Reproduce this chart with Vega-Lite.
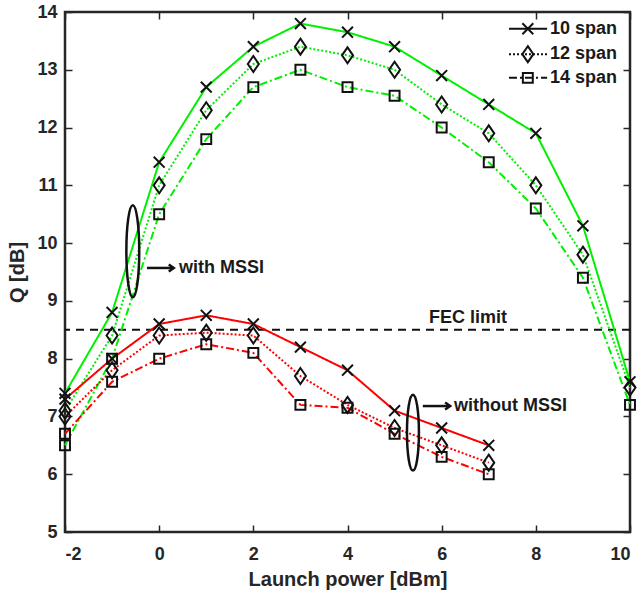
{
  "$schema": "https://vega.github.io/schema/vega-lite/v6.json",
  "width": 565,
  "height": 520,
  "autosize": "none",
  "padding": {"left": 65, "top": 12, "right": 11, "bottom": 69},
  "background": "white",
  "datasets": {
    "series": [
      {"power": -2, "q": 7.4, "span": "10 span", "mssi": "with"},
      {"power": -1, "q": 8.8, "span": "10 span", "mssi": "with"},
      {"power": 0, "q": 11.4, "span": "10 span", "mssi": "with"},
      {"power": 1, "q": 12.7, "span": "10 span", "mssi": "with"},
      {"power": 2, "q": 13.4, "span": "10 span", "mssi": "with"},
      {"power": 3, "q": 13.8, "span": "10 span", "mssi": "with"},
      {"power": 4, "q": 13.65, "span": "10 span", "mssi": "with"},
      {"power": 5, "q": 13.4, "span": "10 span", "mssi": "with"},
      {"power": 6, "q": 12.9, "span": "10 span", "mssi": "with"},
      {"power": 7, "q": 12.4, "span": "10 span", "mssi": "with"},
      {"power": 8, "q": 11.9, "span": "10 span", "mssi": "with"},
      {"power": 9, "q": 10.3, "span": "10 span", "mssi": "with"},
      {"power": 10, "q": 7.6, "span": "10 span", "mssi": "with"},
      {"power": -2, "q": 7.1, "span": "12 span", "mssi": "with"},
      {"power": -1, "q": 8.4, "span": "12 span", "mssi": "with"},
      {"power": 0, "q": 11.0, "span": "12 span", "mssi": "with"},
      {"power": 1, "q": 12.3, "span": "12 span", "mssi": "with"},
      {"power": 2, "q": 13.1, "span": "12 span", "mssi": "with"},
      {"power": 3, "q": 13.4, "span": "12 span", "mssi": "with"},
      {"power": 4, "q": 13.25, "span": "12 span", "mssi": "with"},
      {"power": 5, "q": 13.0, "span": "12 span", "mssi": "with"},
      {"power": 6, "q": 12.4, "span": "12 span", "mssi": "with"},
      {"power": 7, "q": 11.9, "span": "12 span", "mssi": "with"},
      {"power": 8, "q": 11.0, "span": "12 span", "mssi": "with"},
      {"power": 9, "q": 9.8, "span": "12 span", "mssi": "with"},
      {"power": 10, "q": 7.5, "span": "12 span", "mssi": "with"},
      {"power": -2, "q": 6.5, "span": "14 span", "mssi": "with"},
      {"power": -1, "q": 8.0, "span": "14 span", "mssi": "with"},
      {"power": 0, "q": 10.5, "span": "14 span", "mssi": "with"},
      {"power": 1, "q": 11.8, "span": "14 span", "mssi": "with"},
      {"power": 2, "q": 12.7, "span": "14 span", "mssi": "with"},
      {"power": 3, "q": 13.0, "span": "14 span", "mssi": "with"},
      {"power": 4, "q": 12.7, "span": "14 span", "mssi": "with"},
      {"power": 5, "q": 12.55, "span": "14 span", "mssi": "with"},
      {"power": 6, "q": 12.0, "span": "14 span", "mssi": "with"},
      {"power": 7, "q": 11.4, "span": "14 span", "mssi": "with"},
      {"power": 8, "q": 10.6, "span": "14 span", "mssi": "with"},
      {"power": 9, "q": 9.4, "span": "14 span", "mssi": "with"},
      {"power": 10, "q": 7.2, "span": "14 span", "mssi": "with"},
      {"power": -2, "q": 7.3, "span": "10 span", "mssi": "without"},
      {"power": -1, "q": 8.0, "span": "10 span", "mssi": "without"},
      {"power": 0, "q": 8.6, "span": "10 span", "mssi": "without"},
      {"power": 1, "q": 8.75, "span": "10 span", "mssi": "without"},
      {"power": 2, "q": 8.6, "span": "10 span", "mssi": "without"},
      {"power": 3, "q": 8.2, "span": "10 span", "mssi": "without"},
      {"power": 4, "q": 7.8, "span": "10 span", "mssi": "without"},
      {"power": 5, "q": 7.1, "span": "10 span", "mssi": "without"},
      {"power": 6, "q": 6.8, "span": "10 span", "mssi": "without"},
      {"power": 7, "q": 6.5, "span": "10 span", "mssi": "without"},
      {"power": -2, "q": 7.0, "span": "12 span", "mssi": "without"},
      {"power": -1, "q": 7.8, "span": "12 span", "mssi": "without"},
      {"power": 0, "q": 8.4, "span": "12 span", "mssi": "without"},
      {"power": 1, "q": 8.45, "span": "12 span", "mssi": "without"},
      {"power": 2, "q": 8.4, "span": "12 span", "mssi": "without"},
      {"power": 3, "q": 7.7, "span": "12 span", "mssi": "without"},
      {"power": 4, "q": 7.2, "span": "12 span", "mssi": "without"},
      {"power": 5, "q": 6.8, "span": "12 span", "mssi": "without"},
      {"power": 6, "q": 6.5, "span": "12 span", "mssi": "without"},
      {"power": 7, "q": 6.2, "span": "12 span", "mssi": "without"},
      {"power": -2, "q": 6.7, "span": "14 span", "mssi": "without"},
      {"power": -1, "q": 7.6, "span": "14 span", "mssi": "without"},
      {"power": 0, "q": 8.0, "span": "14 span", "mssi": "without"},
      {"power": 1, "q": 8.25, "span": "14 span", "mssi": "without"},
      {"power": 2, "q": 8.1, "span": "14 span", "mssi": "without"},
      {"power": 3, "q": 7.2, "span": "14 span", "mssi": "without"},
      {"power": 4, "q": 7.15, "span": "14 span", "mssi": "without"},
      {"power": 5, "q": 6.7, "span": "14 span", "mssi": "without"},
      {"power": 6, "q": 6.3, "span": "14 span", "mssi": "without"},
      {"power": 7, "q": 6.0, "span": "14 span", "mssi": "without"}
    ],
    "legendRows": [
      {"span": "10 span", "from": 7.43, "to": 8.24, "mark": 7.83, "label": 8.3, "q": 13.71},
      {"span": "12 span", "from": 7.43, "to": 8.24, "mark": 7.83, "label": 8.3, "q": 13.27},
      {"span": "14 span", "from": 7.43, "to": 8.24, "mark": 7.83, "label": 8.3, "q": 12.86}
    ],
    "groups": [
      {"group": "with MSSI", "cx": -0.56, "cy": 9.86, "a0": -0.26, "a1": 0.31, "ay": 9.57, "tx": 0.42},
      {"group": "without MSSI", "cx": 5.39, "cy": 6.72, "a0": 5.6, "a1": 6.18, "ay": 7.18, "tx": 6.26}
    ],
    "fec": [{"q": 8.5, "label": "FEC limit", "lx": 6.56, "ly": 8.7}]
  },
  "layer": [
    {
      "data": {"name": "series"},
      "mark": {"type": "point", "opacity": 0},
      "encoding": {
        "x": {"field": "power", "type": "quantitative", "scale": {"domain": [-2, 10], "nice": false, "zero": false},
              "axis": {"orient": "top", "labels": false, "title": null, "values": [-2, 0, 2, 4, 6, 8, 10]}},
        "y": {"field": "q", "type": "quantitative", "scale": {"domain": [5, 14], "nice": false, "zero": false},
              "axis": {"orient": "right", "labels": false, "title": null, "values": [5, 6, 7, 8, 9, 10, 11, 12, 13, 14]}}
      }
    },
    {
      "data": {"name": "fec"},
      "mark": {"type": "rule", "color": "#111111", "strokeWidth": 2, "strokeDash": [8, 6]},
      "encoding": {
        "y": {"field": "q", "type": "quantitative", "scale": {"domain": [5, 14], "nice": false, "zero": false}, "axis": null}
      }
    },
    {
      "data": {"name": "fec"},
      "mark": {"type": "text", "font": "Liberation Sans", "fontWeight": "bold", "fontSize": 18, "color": "#1a1a1a", "baseline": "middle", "align": "center"},
      "encoding": {
        "x": {"field": "lx", "type": "quantitative", "scale": {"domain": [-2, 10], "nice": false, "zero": false}, "axis": null},
        "y": {"field": "ly", "type": "quantitative", "scale": {"domain": [5, 14], "nice": false, "zero": false}, "axis": null},
        "text": {"field": "label"}
      }
    },
    {
      "data": {"name": "series"},
      "mark": {"type": "line", "strokeWidth": 2},
      "encoding": {
        "x": {"field": "power", "type": "quantitative", "scale": {"domain": [-2, 10], "nice": false, "zero": false},
              "axis": {"title": "Launch power [dBm]", "values": [-2, 0, 2, 4, 6, 8, 10], "labelExpr": "replace(datum.label, '\u2212', '-')"}},
        "y": {"field": "q", "type": "quantitative", "scale": {"domain": [5, 14], "nice": false, "zero": false},
              "axis": {"title": "Q [dB]", "values": [5, 6, 7, 8, 9, 10, 11, 12, 13, 14]}},
        "color": {"field": "mssi", "type": "nominal", "scale": {"domain": ["with", "without"], "range": ["#00f000", "#ff0000"]}, "legend": null},
        "strokeDash": {"field": "span", "type": "nominal", "scale": {"domain": ["10 span", "12 span", "14 span"], "range": [[1, 0], [2, 2], [8, 3, 2, 3]]}, "legend": null}
      }
    },
    {
      "data": {"name": "series"},
      "mark": {"type": "point", "filled": false, "color": "#111111", "strokeWidth": 2, "opacity": 1, "size": 256},
      "encoding": {
        "x": {"field": "power", "type": "quantitative", "scale": {"domain": [-2, 10], "nice": false, "zero": false}, "axis": null},
        "y": {"field": "q", "type": "quantitative", "scale": {"domain": [5, 14], "nice": false, "zero": false}, "axis": null},
        "shape": {"field": "span", "type": "nominal", "scale": {"domain": ["10 span", "12 span", "14 span"],
                  "range": ["M-0.68,-0.68L0.68,0.68M-0.68,0.68L0.68,-0.68", "M0,-1L0.69,0L0,1L-0.69,0Z", "M-0.62,-0.62L0.62,-0.62L0.62,0.62L-0.62,0.62Z"]}, "legend": null}
      }
    },
    {
      "data": {"name": "groups"},
      "mark": {"type": "point", "filled": false, "color": "#111111", "strokeWidth": 2.5, "opacity": 1, "size": 8464},
      "encoding": {
        "x": {"field": "cx", "type": "quantitative", "scale": {"domain": [-2, 10], "nice": false, "zero": false}, "axis": null},
        "y": {"field": "cy", "type": "quantitative", "scale": {"domain": [5, 14], "nice": false, "zero": false}, "axis": null},
        "shape": {"field": "group", "type": "nominal", "scale": {"domain": ["with MSSI", "without MSSI"],
                  "range": ["M0,-1A0.14,1,0,0,1,0,1A0.14,1,0,0,1,0,-1Z", "M0,-0.826A0.13,0.826,0,0,1,0,0.826A0.13,0.826,0,0,1,0,-0.826Z"]}, "legend": null}
      }
    },
    {
      "data": {"name": "groups"},
      "mark": {"type": "rule", "color": "#111111", "strokeWidth": 2.5},
      "encoding": {
        "x": {"field": "a0", "type": "quantitative", "scale": {"domain": [-2, 10], "nice": false, "zero": false}, "axis": null},
        "x2": {"field": "a1"},
        "y": {"field": "ay", "type": "quantitative", "scale": {"domain": [5, 14], "nice": false, "zero": false}, "axis": null}
      }
    },
    {
      "data": {"name": "groups"},
      "mark": {"type": "point", "filled": false, "color": "#111111", "strokeWidth": 2.5, "opacity": 1, "size": 100, "shape": "M-1,-0.7L0,0L-1,0.7"},
      "encoding": {
        "x": {"field": "a1", "type": "quantitative", "scale": {"domain": [-2, 10], "nice": false, "zero": false}, "axis": null},
        "y": {"field": "ay", "type": "quantitative", "scale": {"domain": [5, 14], "nice": false, "zero": false}, "axis": null}
      }
    },
    {
      "data": {"name": "groups"},
      "mark": {"type": "text", "font": "Liberation Sans", "fontWeight": "bold", "fontSize": 18, "color": "#1a1a1a", "baseline": "middle", "align": "left"},
      "encoding": {
        "x": {"field": "tx", "type": "quantitative", "scale": {"domain": [-2, 10], "nice": false, "zero": false}, "axis": null},
        "y": {"field": "ay", "type": "quantitative", "scale": {"domain": [5, 14], "nice": false, "zero": false}, "axis": null},
        "text": {"field": "group"}
      }
    },
    {
      "data": {"name": "legendRows"},
      "mark": {"type": "rule", "color": "#111111", "strokeWidth": 2},
      "encoding": {
        "x": {"field": "from", "type": "quantitative", "scale": {"domain": [-2, 10], "nice": false, "zero": false}, "axis": null},
        "x2": {"field": "to"},
        "y": {"field": "q", "type": "quantitative", "scale": {"domain": [5, 14], "nice": false, "zero": false}, "axis": null},
        "strokeDash": {"field": "span", "type": "nominal", "scale": {"domain": ["10 span", "12 span", "14 span"], "range": [[1, 0], [2, 2], [8, 3, 2, 3]]}, "legend": null}
      }
    },
    {
      "data": {"name": "legendRows"},
      "mark": {"type": "point", "filled": false, "color": "#111111", "strokeWidth": 2, "opacity": 1, "size": 256},
      "encoding": {
        "x": {"field": "mark", "type": "quantitative", "scale": {"domain": [-2, 10], "nice": false, "zero": false}, "axis": null},
        "y": {"field": "q", "type": "quantitative", "scale": {"domain": [5, 14], "nice": false, "zero": false}, "axis": null},
        "shape": {"field": "span", "type": "nominal", "scale": {"domain": ["10 span", "12 span", "14 span"],
                  "range": ["M-0.68,-0.68L0.68,0.68M-0.68,0.68L0.68,-0.68", "M0,-1L0.69,0L0,1L-0.69,0Z", "M-0.62,-0.62L0.62,-0.62L0.62,0.62L-0.62,0.62Z"]}, "legend": null}
      }
    },
    {
      "data": {"name": "legendRows"},
      "mark": {"type": "text", "font": "Liberation Sans", "fontWeight": "bold", "fontSize": 18, "color": "#1a1a1a", "baseline": "middle", "align": "left"},
      "encoding": {
        "x": {"field": "label", "type": "quantitative", "scale": {"domain": [-2, 10], "nice": false, "zero": false}, "axis": null},
        "y": {"field": "q", "type": "quantitative", "scale": {"domain": [5, 14], "nice": false, "zero": false}, "axis": null},
        "text": {"field": "span"}
      }
    }
  ],
  "resolve": {
    "axis": {"x": "independent", "y": "independent"},
    "scale": {"shape": "independent"}
  },
  "config": {
    "view": {"stroke": "#262626", "strokeWidth": 2.5},
    "axis": {
      "domain": false,
      "grid": false,
      "labelFont": "Liberation Sans",
      "labelFontWeight": "bold",
      "labelFontSize": 18,
      "labelColor": "#262626",
      "tickColor": "#262626",
      "tickSize": -7,
      "tickWidth": 1.5,
      "titleFont": "Liberation Sans",
      "titleFontWeight": "bold",
      "titleFontSize": 20,
      "titleColor": "#262626"
    },
    "axisX": {"labelPadding": 20, "titlePadding": 6},
    "axisY": {"labelPadding": 15, "titlePadding": 9}
  }
}
